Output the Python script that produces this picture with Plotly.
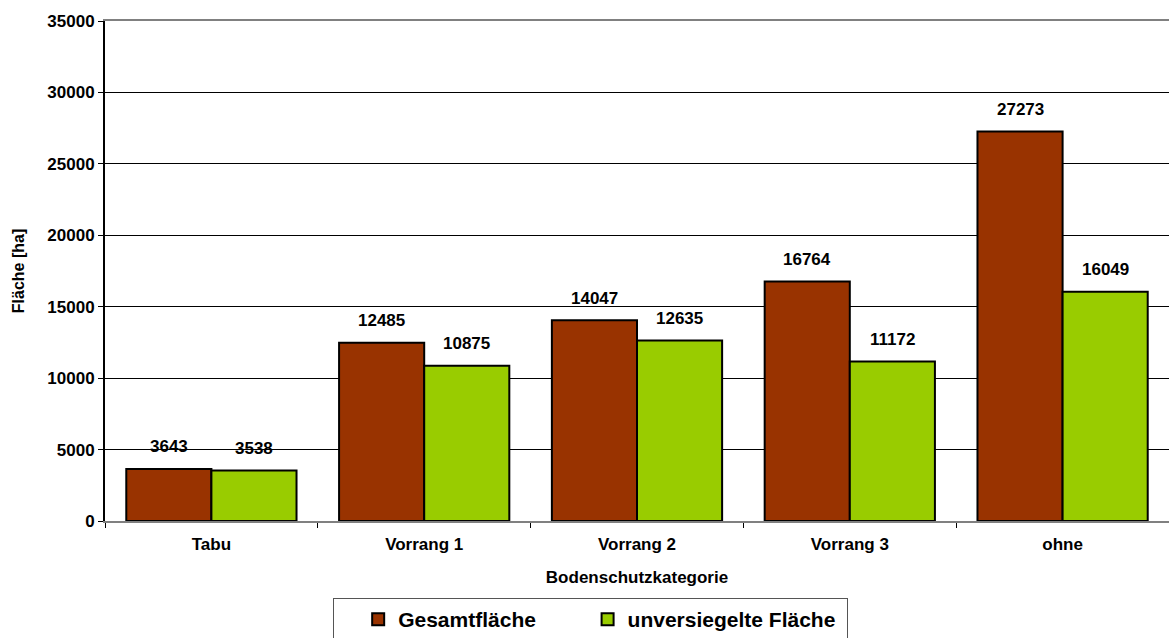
import plotly.graph_objects as go

kategorien = ["Tabu", "Vorrang 1", "Vorrang 2", "Vorrang 3", "ohne"]
gesamt = [3643, 12485, 14047, 16764, 27273]
unversiegelt = [3538, 10875, 12635, 11172, 16049]

FONT = "Liberation Sans, Arial, sans-serif"
NB = "&nbsp;"

fig = go.Figure()
fig.add_trace(go.Bar(
    x=kategorien, y=gesamt, name="<b>Gesamtfläche</b>" + NB * 8,
    marker=dict(color="#993300", line=dict(color="black", width=2)),
))
fig.add_trace(go.Bar(
    x=kategorien, y=unversiegelt, name="<b>unversiegelte Fläche</b>" + NB,
    marker=dict(color="#99CC00", line=dict(color="black", width=2)),
))

# Wertebeschriftungen über den Balken
for werte, dx in ((gesamt, -42.5), (unversiegelt, 42.5)):
    for k, v in zip(kategorien, werte):
        fig.add_annotation(
            x=k, y=v, text=f"<b>{v}</b>", showarrow=False,
            xshift=dx, yshift=22, font=dict(size=17, color="black", family=FONT),
        )

fig.update_layout(
    width=1169, height=638,
    barmode="group", bargap=0.2, bargroupgap=0,
    plot_bgcolor="white", paper_bgcolor="white",
    font=dict(family=FONT, color="black", size=17),
    margin=dict(l=105, r=0, t=21, b=117, autoexpand=False),
    showlegend=True,
    legend=dict(
        orientation="h", x=(333 - 105) / 1064, xanchor="left", y=-0.154, yanchor="top",
        bordercolor="#555555", borderwidth=1,
        font=dict(size=21, family=FONT),
        title=dict(text=NB * 3, side="left", font=dict(size=17)),
    ),
    xaxis=dict(
        title=dict(text="<b>Bodenschutzkategorie</b>", font=dict(size=17), standoff=18),
        tickfont=dict(size=17), automargin=False, ticklabelstandoff=7,
        showline=True, linecolor="#808080", linewidth=2, mirror=True,
        ticks="outside", tickson="boundaries", ticklen=5, tickcolor="black",
        tickprefix="<b>", ticksuffix="</b>",
    ),
    yaxis=dict(
        title=dict(text="<b>Fläche [ha]</b>", font=dict(size=16), standoff=19),
        range=[0, 35000], dtick=5000, tickformat="d", automargin=False,
        tickfont=dict(size=17), tickprefix="<b>", ticksuffix="</b>",
        showgrid=True, gridcolor="black", gridwidth=1,
        showline=True, linecolor="black", linewidth=2,
        ticks="outside", ticklen=5, tickcolor="black",
        zeroline=False,
    ),
)

fig.write_html(
    "out.html",
    config={"displayModeBar": False},
    post_script="document.body.style.margin='0';",
)
